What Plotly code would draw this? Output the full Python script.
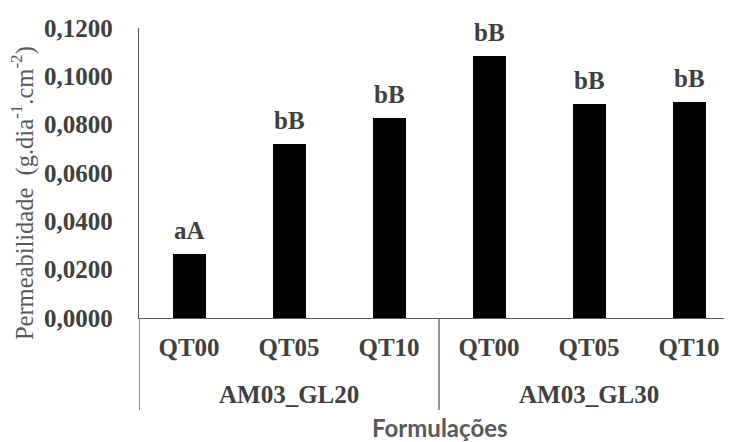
import plotly.graph_objects as go

groups = ["AM03_GL20", "AM03_GL30"]
subcats = ["QT00", "QT05", "QT10", "QT00", "QT05", "QT10"]
values = [0.0266, 0.0718, 0.0826, 0.1083, 0.0886, 0.0895]
letters = ["aA", "bB", "bB", "bB", "bB", "bB"]
yticks = [0.0, 0.02, 0.04, 0.06, 0.08, 0.10, 0.12]

TXT = "#404040"
LINE = "#595959"
SERIF = "Liberation Serif, Times New Roman, serif"

xs = list(range(len(values)))

fig = go.Figure()
fig.add_trace(go.Bar(
    x=xs, y=values, width=0.33,
    marker=dict(color="#000000", line=dict(width=0)),
    showlegend=False, hoverinfo="skip",
))

for x, v, t in zip(xs, values, letters):
    fig.add_annotation(x=x, y=v, text=t, showarrow=False, xref="x", yref="y",
                       yanchor="bottom", yshift=8,
                       font=dict(family=SERIF, size=25, color=TXT, weight="bold"))

# group labels
n_per = len(subcats) // len(groups)
for gi, g in enumerate(groups):
    cx = gi * n_per + (n_per - 1) / 2
    fig.add_annotation(x=cx, y=-0.264, xref="x", yref="paper", text=g, showarrow=False,
                       yanchor="middle",
                       font=dict(family=SERIF, size=25, color=TXT, weight="bold"))

# dividers
for gi in range(len(groups) + 1):
    xd = gi * n_per - 0.5
    fig.add_shape(type="line", xref="x", yref="paper", x0=xd, x1=xd, y0=-0.317, y1=0,
                  line=dict(color=LINE, width=1.3))

# axis titles
fig.add_annotation(x=-0.196, y=0.43, xref="paper", yref="paper", textangle=-90,
                   text="Permeabilidade  (g.dia<sup>-1</sup>.cm<sup>-2</sup>)", showarrow=False,
                   xanchor="center", yanchor="middle",
                   font=dict(family=SERIF, size=24.5, color="#595959"))
fig.add_annotation(x=0.507, y=-0.378, xref="paper", yref="paper",
                   text="Formulações", showarrow=False, xanchor="center", yanchor="middle",
                   font=dict(family="Lato, sans-serif", size=24, color="#595959", weight="bold"))

fig.update_layout(
    width=724, height=434,
    margin=dict(l=131, r=0, t=20, b=124),
    paper_bgcolor="white", plot_bgcolor="white",
    separators=",.",
    xaxis=dict(range=[-0.5, 5.43], tickmode="array", tickvals=xs, ticktext=subcats,
               showgrid=False, zeroline=False, showline=True, linecolor=LINE, linewidth=1.3,
               ticks="", ticklabelstandoff=7,
               tickfont=dict(family=SERIF, size=25, color=TXT, weight="bold")),
    yaxis=dict(range=[0, 0.12], tickmode="array", tickvals=yticks, tickformat=".4f",
               showgrid=False, zeroline=False, showline=True, linecolor=LINE, linewidth=1.3,
               ticks="", ticklabelstandoff=20,
               tickfont=dict(family=SERIF, size=25, color=TXT, weight="bold")),
    bargap=0,
)

fig.write_html("out.html", config={"displayModeBar": False})
